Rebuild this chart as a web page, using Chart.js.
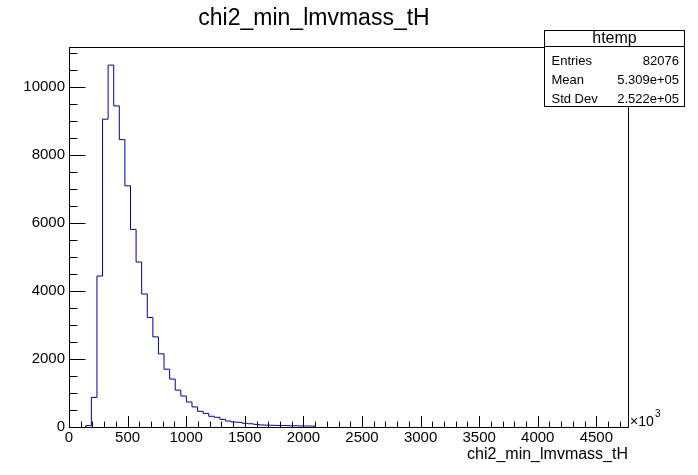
<!DOCTYPE html>
<html>
<head>
<meta charset="utf-8">
<script src="https://cdn.jsdelivr.net/npm/chart.js@4/dist/chart.umd.min.js"></script>
<style>
  html, body { margin: 0; padding: 0; background: #fff; }
  canvas { display: block; }
</style>
</head>
<body>
<canvas id="hist" width="698" height="475"></canvas>
<script>
// histogram htemp : chi2_min_lmvmass_tH, 100 bins, x in units of 10^3
const histName = 'htemp'
const histTitle = 'chi2_min_lmvmass_tH'
const xTitle = 'chi2_min_lmvmass_tH'
const xLow = 0
const xHigh = 4770
const nBins = 100

// bin contents (bins after the last listed one are empty)
const binCounts = [
  0, 0, 0, 40, 870, 4440, 9050, 10640, 9440, 8450,
  7090, 5810, 4850, 3910, 3220, 2650, 2150, 1700, 1410, 1085,
  910, 735, 590, 460, 400, 315, 285, 225, 175, 148,
  137, 108, 95, 78, 60, 55, 50, 46, 42, 38,
  35, 32, 30, 27
]

const xTicks = [0, 500, 1000, 1500, 2000, 2500, 3000, 3500, 4000, 4500]
const yTicks = [0, 2000, 4000, 6000, 8000, 10000]
const yMax = 11172

const statLabels = ['Entries', 'Mean', 'Std Dev']
const statValues = ['82076', '5.309e+05', '2.522e+05']

const FONT = "'Liberation Sans', Arial, Helvetica, sans-serif"
Chart.defaults.font.family = FONT
Chart.defaults.color = '#000'

// outline points at the bin edges; empty bins sit on the axis and are left out
const binWidth = (xHigh - xLow) / nBins
const firstBin = binCounts.findIndex(c => c > 0)
const lastBin = binCounts.length - 1
const points = [{ x: xLow + firstBin * binWidth, y: 0 }]
for (let i = firstBin; i <= lastBin; i++) {
  points.push({ x: xLow + i * binWidth, y: binCounts[i] })
}
points.push({ x: xLow + (lastBin + 1) * binWidth, y: 0 })

// ROOT style frame: box, inward ticks, x10^3 and the stats box
const rootFrame = {
  id: 'rootFrame',
  afterDatasetsDraw(chart) {
    const ctx = chart.ctx
    const a = chart.chartArea
    const xs = chart.scales.x
    const ys = chart.scales.y
    ctx.save()
    ctx.strokeStyle = '#000'
    ctx.lineWidth = 1
    ctx.beginPath()
    // x ticks
    for (let v = 0; v <= xHigh; v += 100) {
      const px = Math.round(xs.getPixelForValue(v)) + 0.5
      const len = v % 500 === 0 ? 11 : 5.5
      ctx.moveTo(px, a.bottom)
      ctx.lineTo(px, a.bottom - len)
    }
    // y ticks
    for (let v = 0; v <= yMax; v += 500) {
      const py = Math.round(ys.getPixelForValue(v)) + 0.5
      const len = v % 2000 === 0 ? 16.5 : 8.5
      ctx.moveTo(a.left, py)
      ctx.lineTo(a.left + len, py)
    }
    ctx.stroke()
    ctx.strokeRect(a.left + 0.5, a.top + 0.5, a.right - a.left, a.bottom - a.top)

    // x10^3
    ctx.fillStyle = '#000'
    ctx.textBaseline = 'middle'
    ctx.textAlign = 'left'
    ctx.font = '14px ' + FONT
    ctx.fillText('\u00d710', a.right + 2, a.bottom - 5)
    ctx.font = '10px ' + FONT
    ctx.fillText('3', a.right + 27, a.bottom - 13)
    ctx.restore()
  },
  afterDraw(chart) {
    const ctx = chart.ctx
    const bx = 544, by = 30, bw = 140, bh = 76
    ctx.save()
    ctx.fillStyle = '#fff'
    ctx.fillRect(bx, by, bw, bh)
    ctx.strokeStyle = '#000'
    ctx.lineWidth = 1
    ctx.strokeRect(bx + 0.5, by + 0.5, bw, bh)
    ctx.beginPath()
    ctx.moveTo(bx, by + 16.5)
    ctx.lineTo(bx + bw, by + 16.5)
    ctx.stroke()
    ctx.fillStyle = '#000'
    ctx.textBaseline = 'middle'
    ctx.textAlign = 'center'
    ctx.font = '16px ' + FONT
    ctx.fillText(histName, bx + bw / 2 + 0.5, by + 9)
    ctx.font = '13px ' + FONT
    for (let i = 0; i < statLabels.length; i++) {
      const y = by + 31 + i * 19
      ctx.textAlign = 'left'
      ctx.fillText(statLabels[i], bx + 7.5, y)
      ctx.textAlign = 'right'
      ctx.fillText(statValues[i], bx + bw - 5, y)
    }
    ctx.restore()
  }
}

new Chart(document.getElementById('hist'), {
  type: 'line',
  data: {
    datasets: [{
      label: histName,
      data: points,
      stepped: 'before',
      borderColor: '#000099',
      borderWidth: 1,
      pointRadius: 0,
      fill: false
    }]
  },
  options: {
    responsive: false,
    animation: false,
    events: [],
    layout: { padding: { left: 0, right: 70, top: 0, bottom: 0 } },
    plugins: {
      legend: { display: false },
      tooltip: { enabled: false },
      title: {
        display: true,
        text: histTitle,
        color: '#000',
        font: { size: 23, weight: 'normal' },
        padding: { top: 5, bottom: 14.4 }
      }
    },
    scales: {
      x: {
        type: 'linear',
        min: xLow,
        max: xHigh,
        afterBuildTicks: s => { s.ticks = xTicks.map(v => ({ value: v })) },
        afterFit: s => { s.height = 48 },
        grid: { display: false, drawTicks: false },
        border: { display: false },
        ticks: {
          font: { size: 15 }, color: '#000', padding: 2, maxRotation: 0, autoSkip: false,
          callback: v => String(v)
        },
        title: {
          display: true,
          text: xTitle,
          align: 'end',
          color: '#000',
          font: { size: 16 },
          padding: { top: 0, bottom: 10.4 }
        }
      },
      y: {
        type: 'linear',
        min: 0,
        max: yMax,
        afterBuildTicks: s => { s.ticks = yTicks.map(v => ({ value: v })) },
        afterFit: s => { s.width = 69 },
        grid: { display: false, drawTicks: false },
        border: { display: false },
        ticks: { font: { size: 15 }, color: '#000', padding: 4, callback: v => String(v) }
      }
    }
  },
  plugins: [rootFrame]
})
</script>
</body>
</html>
